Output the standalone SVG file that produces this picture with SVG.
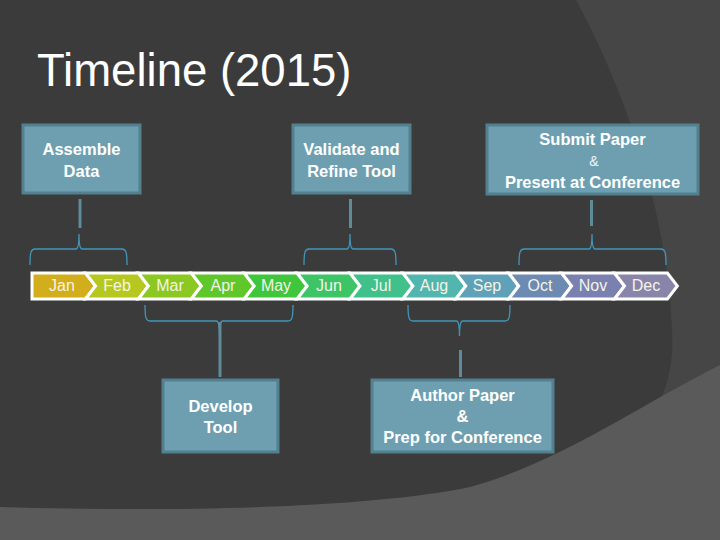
<svg xmlns="http://www.w3.org/2000/svg" width="720" height="540" viewBox="0 0 720 540">
<style>
.box{fill:#6d9fb1;stroke:#52808f;stroke-width:3}
.bt{font-family:"Liberation Sans",Arial,sans-serif;font-size:16.5px;font-weight:bold;fill:#ffffff;text-anchor:middle}
.amp{font-family:"Liberation Sans",Arial,sans-serif;font-size:14px;fill:#f0f4f6;text-anchor:middle}
.seg{stroke:#ffffff;stroke-width:3;stroke-linejoin:miter}
.mt{font-family:"Liberation Sans",Arial,sans-serif;font-size:16px;fill:#f4f4e6;text-anchor:middle}
.brace{fill:none;stroke:#4196b6;stroke-width:1.3}
.stem{fill:none;stroke:#5f8a9a;stroke-width:3}
</style>
<rect width="720" height="540" fill="#3b3b3b"/>
<path d="M576,0 C630,100 668,220 672,330 C674,360 668,385 660,400 L720,400 L720,0 Z" fill="#464646"/>
<path d="M0,507 C200,513 380,506 470,487 C560,462 640,405 720,365 L720,540 L0,540 Z" fill="#5a5a5a"/>
<text x="37" y="86" font-family="Liberation Sans,Arial,sans-serif" font-size="45.5" fill="#ffffff">Timeline (2015)</text>

<g id="timeline">
<polygon class="seg" fill="#d2ae1c" points="32,273 85.5,273 95.5,286 85.5,299 32,299"/>
<polygon class="seg" fill="#b6c820" points="85.5,273 138.4,273 148.4,286 138.4,299 85.5,299 95.5,286"/>
<polygon class="seg" fill="#8bc922" points="138.4,273 191.3,273 201.3,286 191.3,299 138.4,299 148.4,286"/>
<polygon class="seg" fill="#60c72a" points="191.3,273 244.2,273 254.2,286 244.2,299 191.3,299 201.3,286"/>
<polygon class="seg" fill="#40c63c" points="244.2,273 297.1,273 307.1,286 297.1,299 244.2,299 254.2,286"/>
<polygon class="seg" fill="#3dc466" points="297.1,273 350,273 360,286 350,299 297.1,299 307.1,286"/>
<polygon class="seg" fill="#40c08a" points="350,273 402.9,273 412.9,286 402.9,299 350,299 360,286"/>
<polygon class="seg" fill="#50b6ae" points="402.9,273 455.8,273 465.8,286 455.8,299 402.9,299 412.9,286"/>
<polygon class="seg" fill="#5ea1b8" points="455.8,273 508.7,273 518.7,286 508.7,299 455.8,299 465.8,286"/>
<polygon class="seg" fill="#6c8ab2" points="508.7,273 561.6,273 571.6,286 561.6,299 508.7,299 518.7,286"/>
<polygon class="seg" fill="#7a80b0" points="561.6,273 614.5,273 624.5,286 614.5,299 561.6,299 571.6,286"/>
<polygon class="seg" fill="#8985aa" points="614.5,273 667.4,273 677.4,286 667.4,299 614.5,299 624.5,286"/>
<text class="mt" x="62" y="291">Jan</text>
<text class="mt" x="117" y="291">Feb</text>
<text class="mt" x="170" y="291">Mar</text>
<text class="mt" x="223" y="291">Apr</text>
<text class="mt" x="276" y="291">May</text>
<text class="mt" x="329" y="291">Jun</text>
<text class="mt" x="381" y="291">Jul</text>
<text class="mt" x="434" y="291">Aug</text>
<text class="mt" x="487" y="291">Sep</text>
<text class="mt" x="540" y="291">Oct</text>
<text class="mt" x="593" y="291">Nov</text>
<text class="mt" x="646" y="291">Dec</text>
</g>

<g id="connectors">
<path class="brace" d="M30,265 C30,252 31,249 35,249 L76,249 C78,249 79,245 79,234 C79,245 80,249 82,249 L122,249 C126,249 127,252 127,265"/>
<path class="brace" d="M304,265 C304,252 305,249 309,249 L347,249 C349,249 350,245 350,234 C350,245 351,249 353,249 L391,249 C395,249 396,252 396,265"/>
<path class="brace" d="M519,265 C519,252 520,249 524,249 L589,249 C591,249 592,245 592,234 C592,245 593,249 595,249 L661,249 C665,249 666,252 666,265"/>
<path class="brace" d="M145,305 C145,318 146,321 150,321 L216.5,321 C218.5,321 219.5,325 219.5,336 C219.5,325 220.5,321 222.5,321 L288,321 C292,321 293,318 293,305"/>
<path class="brace" d="M408,305 C408,318 409,321 413,321 L456.5,321 C458.5,321 459.5,325 459.5,336 C459.5,325 460.5,321 462.5,321 L505,321 C509,321 510,318 510,305"/>
<line class="stem" x1="80" y1="199" x2="80" y2="228"/>
<line class="stem" x1="350.5" y1="199" x2="350.5" y2="228"/>
<line class="stem" x1="591.5" y1="200" x2="591.5" y2="226"/>
<line class="stem" x1="220" y1="322" x2="220" y2="377"/>
<line class="stem" x1="460.5" y1="350" x2="460.5" y2="377"/>
</g>

<g id="assemble">
<rect class="box" x="23" y="125" width="117" height="68"/>
<text class="bt" x="81.5" y="155">Assemble</text>
<text class="bt" x="81.5" y="177">Data</text>
</g>
<g id="validate">
<rect class="box" x="293" y="125" width="117" height="68"/>
<text class="bt" x="351.5" y="155">Validate and</text>
<text class="bt" x="351.5" y="177">Refine Tool</text>
</g>
<g id="submit">
<rect class="box" x="487" y="125" width="211" height="69"/>
<text class="bt" x="592.5" y="145">Submit Paper</text>
<text class="amp" x="594" y="166">&amp;</text>
<text class="bt" x="592.5" y="188">Present at Conference</text>
</g>
<g id="develop">
<rect class="box" x="163" y="380" width="115" height="72"/>
<text class="bt" x="220.5" y="412">Develop</text>
<text class="bt" x="220.5" y="433">Tool</text>
</g>
<g id="author">
<rect class="box" x="372" y="380" width="181" height="72"/>
<text class="bt" x="462.5" y="401">Author Paper</text>
<text class="bt" x="462.5" y="422">&amp;</text>
<text class="bt" x="462.5" y="443">Prep for Conference</text>
</g>
</svg>
